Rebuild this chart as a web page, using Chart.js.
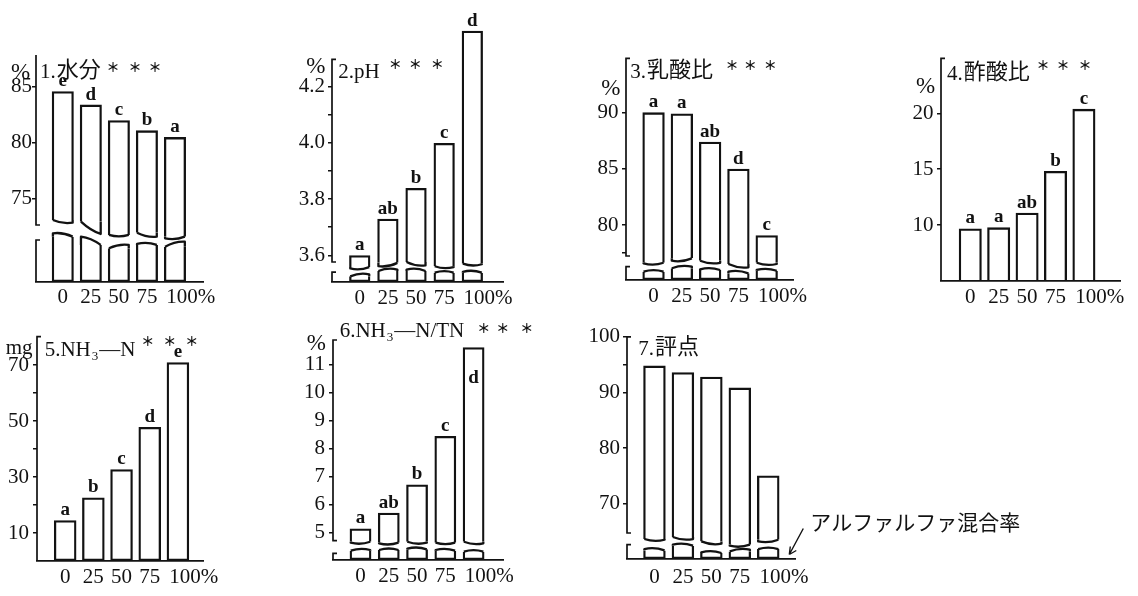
<!DOCTYPE html>
<html>
<head>
<meta charset="utf-8">
<script src="https://cdn.jsdelivr.net/npm/chart.js@4.4.1/dist/chart.umd.min.js"></script>
<style>
  html, body { margin: 0; padding: 0; background: #fff; }
  body { width: 1138px; height: 596px; position: relative; overflow: hidden; }
  canvas { position: absolute; }
</style>
</head>
<body>
<script>
// ---------- data ----------
// alfalfa mixing rate (x categories)
const rates = ['0', '25', '50', '75', '100%'];

// 1. 水分 (%)
const moisture = [84.6, 83.4, 82.0, 81.1, 80.5];
const moistureGroups = ['e', 'd', 'c', 'b', 'a'];
const moistureTicks = [75, 80, 85];
const moistureTickLabels = ['75', '80', '85'];
const moistureCutL = [73.10, 72.95, 71.76, 71.96, 71.46];
const moistureCutR = [72.86, 71.85, 71.76, 71.61, 71.61];
const moistureStubL = [71.91, 71.61, 70.57, 70.96, 70.71];
const moistureStubR = [71.61, 70.87, 70.87, 70.87, 71.16];

// 2. pH
const ph = [3.60, 3.73, 3.84, 4.00, 4.40];
const phGroups = ['a', 'ab', 'b', 'c', 'd'];
const phTicks = [3.6, 3.7, 3.8, 3.9, 4.0, 4.1, 4.2];
const phTickLabels = ['3.6', '', '3.8', '', '4.0', '', '4.2'];
const phCutL = [3.553, 3.561, 3.576, 3.561, 3.570];
const phCutR = [3.558, 3.573, 3.564, 3.558, 3.568];
const phStubL = [3.525, 3.544, 3.549, 3.538, 3.541];
const phStubR = [3.532, 3.549, 3.544, 3.538, 3.538];

// 3. 乳酸比 (%)
const lactic = [90.0, 89.9, 87.4, 85.0, 79.1];
const lacticGroups = ['a', 'a', 'ab', 'd', 'c'];
const lacticTicks = [77.5, 80, 85, 90];
const lacticTickLabels = ['', '80', '85', '90'];
const lacticCutL = [76.60, 76.83, 76.83, 76.54, 76.65];
const lacticCutR = [76.65, 77.04, 76.65, 76.25, 76.54];
const lacticStubL = [75.86, 76.16, 76.07, 75.86, 76.01];
const lacticStubR = [75.86, 76.30, 76.01, 75.71, 75.94];

// 4. 酢酸比 (%)
const acetic = [9.7, 9.8, 11.1, 14.85, 20.4];
const aceticGroups = ['a', 'a', 'ab', 'b', 'c'];
const aceticTicks = [10, 15, 20];
const aceticTickLabels = ['10', '15', '20'];

// 5. NH3-N (mg)
const ammonia = [14.6, 22.7, 32.8, 47.9, 71.0];
const ammoniaGroups = ['a', 'b', 'c', 'd', 'e'];
const ammoniaTicks = [10, 20, 30, 40, 50, 60, 70];
const ammoniaTickLabels = ['10', '', '30', '', '50', '', '70'];

// 6. NH3-N/TN (%)
const ammoniaRatio = [5.14, 5.70, 6.71, 8.44, 11.61];
const ammoniaRatioGroups = ['a', 'ab', 'b', 'c', 'd'];
const ammoniaRatioTicks = [5, 6, 7, 8, 9, 10, 11];
const ammoniaRatioTickLabels = ['5', '6', '7', '8', '9', '10', '11'];
const ammoniaRatioCutL = [4.629, 4.607, 4.664, 4.629, 4.664];
const ammoniaRatioCutR = [4.664, 4.629, 4.629, 4.629, 4.607];
const ammoniaRatioStubL = [4.343, 4.368, 4.414, 4.368, 4.307];
const ammoniaRatioStubR = [4.368, 4.368, 4.393, 4.343, 4.307];

// 7. 評点
const score = [94.85, 93.66, 92.87, 90.9, 75.1];
const scoreTicks = [70, 80, 90, 95, 100];
const scoreTickLabels = ['70', '80', '90', '', '100'];
const scoreCutL = [63.68, 64.04, 63.25, 62.48, 63.25];
const scoreCutR = [63.55, 63.68, 62.84, 62.66, 63.55];
const scoreStubL = [61.88, 62.66, 61.27, 61.45, 61.88];
const scoreStubR = [61.63, 62.48, 61.17, 61.76, 61.88];

// ---------- styling ----------
const INK = '#121212';
const SERIF = '"Liberation Serif", "Times New Roman", serif';
const CJK = '"Noto Sans CJK JP", sans-serif';
const BAR_W = 2.3;
const AXIS_W = 1.7;

const panels = [
  { title: [{ t: '1.水分' }], titleX: 40, titleY: 78, stars: [113, 135, 155], starY: 66.7,
    unit: '%', unitX: 11, unitY: 79,
    axisX: 36, axisY: 282, right: 203, top: 40, yMin: 67.56, yMax: 89.17,
    xMin: -0.955, xMax: 5.0, barPct: 0.786, tickPad: 0, xPad: 3,
    values: moisture, groups: moistureGroups, ticks: moistureTicks, tickLabels: moistureTickLabels,
    cut: { l: moistureCutL, r: moistureCutR, sl: moistureStubL, sr: moistureStubR },
    axis: [[87.83, 72.65, false, true], [71.31, null, true, false]] },
  { title: [{ t: '2.pH' }], titleX: 338, titleY: 78, stars: [395, 415, 437], starY: 64.3,
    unit: '%', unitX: 306, unitY: 73,
    axisX: 331.7, axisY: 281.7, right: 503, top: 5, yMin: 3.5048, yMax: 4.4913,
    xMin: -0.986, xMax: 5.09, barPct: 0.755, tickPad: 3, xPad: 4,
    values: ph, groups: phGroups, ticks: phTicks, tickLabels: phTickLabels,
    cut: { l: phCutL, r: phCutR, sl: phStubL, sr: phStubR },
    axis: [[4.2977, 3.576, true, true], [3.540, null, true, false]] },
  { title: [{ t: '3.乳酸比' }], titleX: 630, titleY: 78, stars: [731.7, 750, 770], starY: 65,
    unit: '%', unitX: 601, unitY: 95,
    axisX: 625.7, axisY: 280, right: 793, top: 40, yMin: 75.12, yMax: 96.42,
    xMin: -0.974, xMax: 4.93, barPct: 0.79, tickPad: 3.5, xPad: 4,
    values: lactic, groups: lacticGroups, ticks: lacticTicks, tickLabels: lacticTickLabels,
    cut: { l: lacticCutL, r: lacticCutR, sl: lacticStubL, sr: lacticStubR },
    axis: [[94.79, 77.25, true, true], [76.30, null, true, false]] },
  { title: [{ t: '4.酢酸比' }], titleX: 947, titleY: 80, stars: [1043, 1063, 1085], starY: 65,
    unit: '%', unitX: 916, unitY: 93,
    axisX: 941, axisY: 280.7, right: 1120, top: 40, yMin: 5, yMax: 26.56,
    xMin: -1.03, xMax: 5.27, barPct: 0.81, tickPad: 3.5, xPad: 4,
    values: acetic, groups: aceticGroups, ticks: aceticTicks, tickLabels: aceticTickLabels,
    axis: [[24.92, null, true, false]] },
  { title: [{ t: '5.NH' }, { t: '3', sub: true }, { t: '—N' }], titleX: 45, titleY: 356,
    stars: [148, 170, 192], starY: 340.7, unit: 'mg', unitX: 6, unitY: 354,
    axisX: 37.3, axisY: 560.7, right: 203.3, top: 320, yMin: 0, yMax: 86.1,
    xMin: -1.0, xMax: 4.89, barPct: 0.8, tickPad: 4, xPad: 4,
    values: ammonia, groups: ammoniaGroups, ticks: ammoniaTicks, tickLabels: ammoniaTickLabels,
    axis: [[80.14, null, true, false]] },
  { title: [{ t: '6.NH' }, { t: '3', sub: true }, { t: '—N/TN' }], titleX: 340, titleY: 336.7,
    stars: [484, 503, 527], starY: 328.3, unit: '%', unitX: 307, unitY: 350,
    axisX: 333.3, axisY: 560, right: 503.3, top: 315, yMin: 4.011, yMax: 12.76,
    xMin: -0.973, xMax: 5.04, barPct: 0.77, tickPad: 4, xPad: 4,
    values: ammoniaRatio, groups: ammoniaRatioGroups, inside: [false, false, false, false, true],
    ticks: ammoniaRatioTicks, tickLabels: ammoniaRatioTickLabels,
    cut: { l: ammoniaRatioCutL, r: ammoniaRatioCutR, sl: ammoniaRatioStubL, sr: ammoniaRatioStubR },
    axis: [[11.868, 4.70, true, true], [4.25, null, true, false]] },
  { title: [{ t: '7.評点' }], titleX: 638, titleY: 355, stars: [], starY: 0,
    axisX: 626.7, axisY: 559.3, right: 795, top: 320, yMin: 60.09, yMax: 103.05,
    xMin: -0.965, xMax: 4.94, barPct: 0.79, tickPad: 3, xPad: 6, padRight: 240,
    values: score, ticks: scoreTicks, tickLabels: scoreTickLabels,
    cut: { l: scoreCutL, r: scoreCutR, sl: scoreStubL, sr: scoreStubR },
    axis: [[100, 64.76, true, true], [62.66, null, true, false]],
    note: { text: 'アルファルファ混合率', x: 810, y: 522.5 } }
];

// split a string into latin / CJK runs so each uses a suitable face
function runs(str) {
  const out = [];
  for (const ch of str) {
    const cjk = ch.codePointAt(0) > 0x2e80;
    const last = out[out.length - 1];
    if (last && last.cjk === cjk) last.t += ch; else out.push({ t: ch, cjk });
  }
  return out;
}

function drawRich(ctx, segs, x, y) {
  ctx.textAlign = 'left';
  ctx.textBaseline = 'alphabetic';
  for (const s of segs) {
    for (const r of runs(s.t)) {
      const size = s.sub ? 13 : (r.cjk ? 22 : 21);
      ctx.font = `${size}px ${r.cjk ? CJK : SERIF}`;
      ctx.fillText(r.t, x, y + (s.sub ? 4 : (r.cjk ? -1 : 0)));
      x += ctx.measureText(r.t).width + (r.cjk ? 0 : 1);
    }
  }
  return x;
}

function decor(p, offX, offY) {
  return {
    id: 'panelDecor',
    afterDatasetsDraw(chart) {
      const ctx = chart.ctx;
      const ys = chart.scales.y;
      const area = chart.chartArea;
      ctx.save();
      ctx.strokeStyle = INK;
      ctx.fillStyle = INK;

      // wavy cut edges of the broken bars
      if (p.cut) {
        ctx.lineWidth = BAR_W;
        ctx.lineJoin = 'round';
        const upper = chart.getDatasetMeta(0).data;
        const stubs = chart.getDatasetMeta(1).data;
        upper.forEach((el, i) => {
          const half = el.width / 2 - BAR_W / 2;
          const xl = el.x - half, xr = el.x + half;
          const yl = ys.getPixelForValue(p.cut.l[i]);
          const yr = ys.getPixelForValue(p.cut.r[i]);
          ctx.beginPath();
          ctx.moveTo(xl, el.base);
          ctx.lineTo(xl, yl);
          ctx.quadraticCurveTo(el.x, (yl + yr) / 2 + 3, xr, yr);
          ctx.lineTo(xr, el.base);
          ctx.stroke();
        });
        stubs.forEach((el, i) => {
          const half = el.width / 2 - BAR_W / 2;
          const xl = el.x - half, xr = el.x + half;
          const yl = ys.getPixelForValue(p.cut.sl[i]);
          const yr = ys.getPixelForValue(p.cut.sr[i]);
          ctx.beginPath();
          ctx.moveTo(xl, el.y);
          ctx.lineTo(xl, yl);
          ctx.quadraticCurveTo(el.x, (yl + yr) / 2 - 3, xr, yr);
          ctx.lineTo(xr, el.y);
          ctx.stroke();
        });
      }

      // broken value axis
      ctx.lineWidth = AXIS_W;
      ctx.lineCap = 'butt';
      const ax = Math.round(area.left);
      p.axis.forEach(([from, to, serifTop, serifBottom]) => {
        const y1 = ys.getPixelForValue(from);
        const y2 = to === null ? area.bottom : ys.getPixelForValue(to);
        ctx.beginPath();
        ctx.moveTo(ax, y1);
        ctx.lineTo(ax, y2);
        if (serifTop) { ctx.moveTo(ax - 0.8, y1); ctx.lineTo(ax + 4, y1); }
        if (serifBottom) { ctx.moveTo(ax - 0.8, y2); ctx.lineTo(ax + 4, y2); }
        ctx.stroke();
      });

      // significance letters
      if (p.groups) {
        ctx.font = `bold 19px ${SERIF}`;
        ctx.textAlign = 'center';
        ctx.textBaseline = 'alphabetic';
        chart.getDatasetMeta(0).data.forEach((el, i) => {
          const inside = p.inside && p.inside[i];
          ctx.fillText(p.groups[i], el.x, inside ? el.y + 36 : el.y - 5);
        });
      }

      // panel title, significance stars and unit
      drawRich(ctx, p.title, p.titleX - offX, p.titleY - offY);
      ctx.font = `bold 13px ${CJK}`;
      ctx.textAlign = 'center';
      ctx.textBaseline = 'middle';
      p.stars.forEach(sx => ctx.fillText('＊', sx - offX, p.starY - offY));
      if (p.unit) {
        ctx.font = `${p.unit === '%' ? 23 : 21}px ${SERIF}`;
        ctx.textAlign = 'left';
        ctx.textBaseline = 'alphabetic';
        ctx.fillText(p.unit, p.unitX - offX, p.unitY - offY);
      }

      // x-axis caption with pointer
      if (p.note) {
        const nx = p.note.x - offX, ny = p.note.y - offY;
        ctx.font = `21px ${CJK}`;
        ctx.textAlign = 'left';
        ctx.textBaseline = 'middle';
        ctx.fillText(p.note.text, nx, ny);
        ctx.lineWidth = 1.4;
        const tipX = nx - 21, tipY = ny + 32;
        ctx.beginPath();
        ctx.moveTo(nx - 7, ny + 6);
        ctx.lineTo(tipX, tipY);
        ctx.moveTo(tipX, tipY);
        ctx.lineTo(tipX + 1, tipY - 8);
        ctx.moveTo(tipX, tipY);
        ctx.lineTo(tipX + 7, tipY - 4);
        ctx.stroke();
      }
      ctx.restore();
    }
  };
}

function buildPanel(p) {
  const padTop = 22, yW = 60, xH = 44;
  const padRight = p.padRight || 40;
  const left = p.axisX - yW;
  const top = p.top - padTop;
  const w = Math.round((p.right - p.axisX) + yW + padRight);
  const h = Math.round((p.axisY - p.top) + padTop + xH);
  const canvas = document.createElement('canvas');
  canvas.width = w; canvas.height = h;
  canvas.style.width = w + 'px'; canvas.style.height = h + 'px';
  canvas.style.left = left + 'px'; canvas.style.top = top + 'px';
  document.body.appendChild(canvas);

  const datasets = [];
  const common = {
    backgroundColor: 'rgba(0,0,0,0)', borderColor: INK, borderWidth: BAR_W,
    categoryPercentage: 1, barPercentage: p.barPct, grouped: false
  };
  if (p.cut) {
    datasets.push(Object.assign({
      data: p.values.map((v, i) => ({ x: i, y: [Math.max(p.cut.l[i], p.cut.r[i]), v] })),
      borderSkipped: 'bottom'
    }, common));
    datasets.push(Object.assign({
      data: p.values.map((v, i) => ({ x: i, y: [p.yMin, Math.min(p.cut.sl[i], p.cut.sr[i])] })),
      borderSkipped: 'top'
    }, common));
  } else {
    datasets.push(Object.assign({
      data: p.values.map((v, i) => ({ x: i, y: v })),
      borderSkipped: false
    }, common));
  }

  new Chart(canvas, {
    type: 'bar',
    data: { datasets },
    options: {
      responsive: false,
      animation: false,
      devicePixelRatio: 1,
      layout: { padding: { top: padTop, right: padRight, left: 0, bottom: 0 } },
      plugins: { legend: { display: false }, tooltip: { enabled: false } },
      scales: {
        x: {
          type: 'linear', min: p.xMin, max: p.xMax, offset: false,
          afterBuildTicks: s => { s.ticks = rates.map((_, i) => ({ value: i })); },
          afterFit: s => { s.height = xH; },
          grid: { display: false, drawTicks: false, offset: false },
          border: { display: true, color: INK, width: AXIS_W },
          ticks: {
            autoSkip: false, maxRotation: 0, minRotation: 0, padding: p.xPad,
            color: INK, font: { family: SERIF, size: 21 },
            callback: (v, i) => (i === rates.length - 1 ? '\u2007\u2007\u2007' : '') + rates[i]
          }
        },
        y: {
          min: p.yMin, max: p.yMax,
          afterBuildTicks: s => { s.ticks = p.ticks.map(v => ({ value: v })); },
          afterFit: s => { s.width = yW; },
          grid: { display: true, drawOnChartArea: false, drawTicks: true, tickLength: 4, color: INK, lineWidth: 1.5 },
          border: { display: false },
          ticks: {
            autoSkip: false, padding: p.tickPad, color: INK,
            font: { family: SERIF, size: 21 },
            callback: (v, i) => p.tickLabels[i]
          }
        }
      }
    },
    plugins: [decor(p, left, top)]
  });
}

panels.forEach(buildPanel);
</script>
</body>
</html>
